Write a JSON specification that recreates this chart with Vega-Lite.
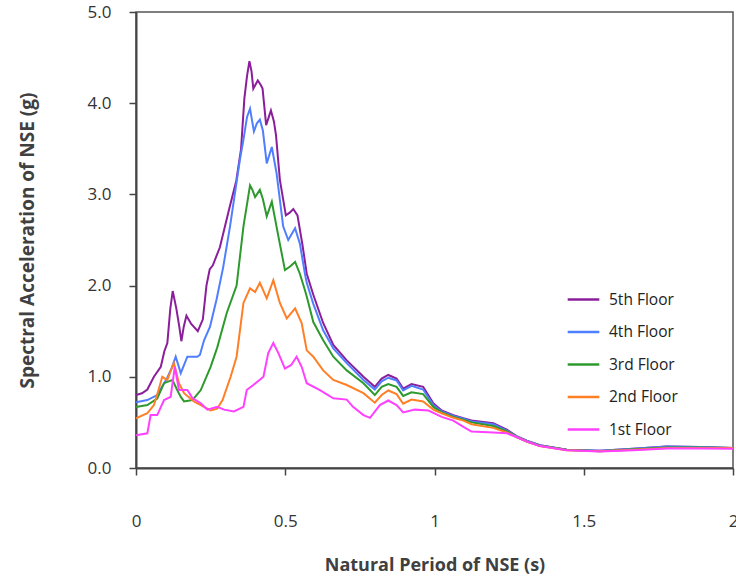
{
  "$schema": "https://vega.github.io/schema/vega-lite/v6.json",
  "width": 597,
  "height": 456,
  "autosize": "none",
  "padding": {"left": 136, "top": 12, "right": 3, "bottom": 117},
  "background": "white",
  "config": {
    "view": {"stroke": "#555555", "strokeWidth": 1.5},
    "font": "Open Sans"
  },
  "data": {"values": [
    {"T":0,"Sa":0.80,"floor":"5th Floor"},{"T":0.02,"Sa":0.82,"floor":"5th Floor"},{"T":0.038,"Sa":0.86,"floor":"5th Floor"},{"T":0.06,"Sa":1.0,"floor":"5th Floor"},{"T":0.083,"Sa":1.11,"floor":"5th Floor"},{"T":0.095,"Sa":1.28,"floor":"5th Floor"},{"T":0.105,"Sa":1.37,"floor":"5th Floor"},{"T":0.115,"Sa":1.75,"floor":"5th Floor"},{"T":0.123,"Sa":1.94,"floor":"5th Floor"},{"T":0.135,"Sa":1.75,"floor":"5th Floor"},{"T":0.145,"Sa":1.55,"floor":"5th Floor"},{"T":0.152,"Sa":1.39,"floor":"5th Floor"},{"T":0.16,"Sa":1.55,"floor":"5th Floor"},{"T":0.169,"Sa":1.67,"floor":"5th Floor"},{"T":0.185,"Sa":1.58,"floor":"5th Floor"},{"T":0.207,"Sa":1.50,"floor":"5th Floor"},{"T":0.224,"Sa":1.63,"floor":"5th Floor"},{"T":0.236,"Sa":2.0,"floor":"5th Floor"},{"T":0.247,"Sa":2.18,"floor":"5th Floor"},{"T":0.257,"Sa":2.22,"floor":"5th Floor"},{"T":0.281,"Sa":2.42,"floor":"5th Floor"},{"T":0.313,"Sa":2.85,"floor":"5th Floor"},{"T":0.336,"Sa":3.15,"floor":"5th Floor"},{"T":0.352,"Sa":3.5,"floor":"5th Floor"},{"T":0.363,"Sa":4.05,"floor":"5th Floor"},{"T":0.372,"Sa":4.3,"floor":"5th Floor"},{"T":0.38,"Sa":4.46,"floor":"5th Floor"},{"T":0.387,"Sa":4.35,"floor":"5th Floor"},{"T":0.393,"Sa":4.16,"floor":"5th Floor"},{"T":0.408,"Sa":4.25,"floor":"5th Floor"},{"T":0.418,"Sa":4.2,"floor":"5th Floor"},{"T":0.424,"Sa":4.16,"floor":"5th Floor"},{"T":0.436,"Sa":3.76,"floor":"5th Floor"},{"T":0.445,"Sa":3.85,"floor":"5th Floor"},{"T":0.452,"Sa":3.92,"floor":"5th Floor"},{"T":0.462,"Sa":3.8,"floor":"5th Floor"},{"T":0.469,"Sa":3.65,"floor":"5th Floor"},{"T":0.482,"Sa":3.16,"floor":"5th Floor"},{"T":0.502,"Sa":2.77,"floor":"5th Floor"},{"T":0.515,"Sa":2.8,"floor":"5th Floor"},{"T":0.527,"Sa":2.84,"floor":"5th Floor"},{"T":0.541,"Sa":2.77,"floor":"5th Floor"},{"T":0.558,"Sa":2.44,"floor":"5th Floor"},{"T":0.572,"Sa":2.13,"floor":"5th Floor"},{"T":0.594,"Sa":1.90,"floor":"5th Floor"},{"T":0.627,"Sa":1.59,"floor":"5th Floor"},{"T":0.661,"Sa":1.35,"floor":"5th Floor"},{"T":0.706,"Sa":1.18,"floor":"5th Floor"},{"T":0.762,"Sa":1.0,"floor":"5th Floor"},{"T":0.8,"Sa":0.89,"floor":"5th Floor"},{"T":0.823,"Sa":0.98,"floor":"5th Floor"},{"T":0.845,"Sa":1.02,"floor":"5th Floor"},{"T":0.873,"Sa":0.98,"floor":"5th Floor"},{"T":0.895,"Sa":0.87,"floor":"5th Floor"},{"T":0.923,"Sa":0.92,"floor":"5th Floor"},{"T":0.962,"Sa":0.89,"floor":"5th Floor"},{"T":0.996,"Sa":0.71,"floor":"5th Floor"},{"T":1.024,"Sa":0.63,"floor":"5th Floor"},{"T":1.063,"Sa":0.58,"floor":"5th Floor"},{"T":1.097,"Sa":0.545,"floor":"5th Floor"},{"T":1.124,"Sa":0.52,"floor":"5th Floor"},{"T":1.197,"Sa":0.49,"floor":"5th Floor"},{"T":1.242,"Sa":0.42,"floor":"5th Floor"},{"T":1.275,"Sa":0.35,"floor":"5th Floor"},{"T":1.309,"Sa":0.30,"floor":"5th Floor"},{"T":1.353,"Sa":0.25,"floor":"5th Floor"},{"T":1.443,"Sa":0.20,"floor":"5th Floor"},{"T":1.554,"Sa":0.19,"floor":"5th Floor"},{"T":1.666,"Sa":0.21,"floor":"5th Floor"},{"T":1.778,"Sa":0.235,"floor":"5th Floor"},{"T":1.889,"Sa":0.23,"floor":"5th Floor"},{"T":2.0,"Sa":0.22,"floor":"5th Floor"},

    {"T":0,"Sa":0.72,"floor":"4th Floor"},{"T":0.038,"Sa":0.745,"floor":"4th Floor"},{"T":0.071,"Sa":0.80,"floor":"4th Floor"},{"T":0.105,"Sa":0.99,"floor":"4th Floor"},{"T":0.12,"Sa":1.1,"floor":"4th Floor"},{"T":0.133,"Sa":1.22,"floor":"4th Floor"},{"T":0.15,"Sa":1.04,"floor":"4th Floor"},{"T":0.172,"Sa":1.22,"floor":"4th Floor"},{"T":0.205,"Sa":1.22,"floor":"4th Floor"},{"T":0.214,"Sa":1.24,"floor":"4th Floor"},{"T":0.228,"Sa":1.40,"floor":"4th Floor"},{"T":0.248,"Sa":1.55,"floor":"4th Floor"},{"T":0.27,"Sa":1.85,"floor":"4th Floor"},{"T":0.292,"Sa":2.2,"floor":"4th Floor"},{"T":0.315,"Sa":2.65,"floor":"4th Floor"},{"T":0.348,"Sa":3.38,"floor":"4th Floor"},{"T":0.36,"Sa":3.6,"floor":"4th Floor"},{"T":0.372,"Sa":3.85,"floor":"4th Floor"},{"T":0.382,"Sa":3.94,"floor":"4th Floor"},{"T":0.395,"Sa":3.69,"floor":"4th Floor"},{"T":0.405,"Sa":3.78,"floor":"4th Floor"},{"T":0.415,"Sa":3.82,"floor":"4th Floor"},{"T":0.425,"Sa":3.7,"floor":"4th Floor"},{"T":0.438,"Sa":3.34,"floor":"4th Floor"},{"T":0.455,"Sa":3.52,"floor":"4th Floor"},{"T":0.471,"Sa":3.23,"floor":"4th Floor"},{"T":0.493,"Sa":2.65,"floor":"4th Floor"},{"T":0.51,"Sa":2.50,"floor":"4th Floor"},{"T":0.533,"Sa":2.63,"floor":"4th Floor"},{"T":0.549,"Sa":2.46,"floor":"4th Floor"},{"T":0.566,"Sa":2.13,"floor":"4th Floor"},{"T":0.572,"Sa":2.03,"floor":"4th Floor"},{"T":0.594,"Sa":1.80,"floor":"4th Floor"},{"T":0.627,"Sa":1.51,"floor":"4th Floor"},{"T":0.661,"Sa":1.31,"floor":"4th Floor"},{"T":0.706,"Sa":1.15,"floor":"4th Floor"},{"T":0.762,"Sa":0.965,"floor":"4th Floor"},{"T":0.8,"Sa":0.86,"floor":"4th Floor"},{"T":0.823,"Sa":0.95,"floor":"4th Floor"},{"T":0.845,"Sa":0.99,"floor":"4th Floor"},{"T":0.873,"Sa":0.96,"floor":"4th Floor"},{"T":0.895,"Sa":0.85,"floor":"4th Floor"},{"T":0.923,"Sa":0.90,"floor":"4th Floor"},{"T":0.962,"Sa":0.86,"floor":"4th Floor"},{"T":0.996,"Sa":0.69,"floor":"4th Floor"},{"T":1.024,"Sa":0.62,"floor":"4th Floor"},{"T":1.063,"Sa":0.57,"floor":"4th Floor"},{"T":1.097,"Sa":0.54,"floor":"4th Floor"},{"T":1.124,"Sa":0.51,"floor":"4th Floor"},{"T":1.197,"Sa":0.48,"floor":"4th Floor"},{"T":1.242,"Sa":0.41,"floor":"4th Floor"},{"T":1.275,"Sa":0.35,"floor":"4th Floor"},{"T":1.309,"Sa":0.30,"floor":"4th Floor"},{"T":1.353,"Sa":0.25,"floor":"4th Floor"},{"T":1.443,"Sa":0.20,"floor":"4th Floor"},{"T":1.554,"Sa":0.19,"floor":"4th Floor"},{"T":1.666,"Sa":0.21,"floor":"4th Floor"},{"T":1.778,"Sa":0.235,"floor":"4th Floor"},{"T":1.889,"Sa":0.23,"floor":"4th Floor"},{"T":2.0,"Sa":0.22,"floor":"4th Floor"},

    {"T":0,"Sa":0.67,"floor":"3rd Floor"},{"T":0.038,"Sa":0.69,"floor":"3rd Floor"},{"T":0.071,"Sa":0.76,"floor":"3rd Floor"},{"T":0.094,"Sa":0.93,"floor":"3rd Floor"},{"T":0.11,"Sa":0.95,"floor":"3rd Floor"},{"T":0.122,"Sa":0.965,"floor":"3rd Floor"},{"T":0.138,"Sa":0.855,"floor":"3rd Floor"},{"T":0.15,"Sa":0.78,"floor":"3rd Floor"},{"T":0.161,"Sa":0.73,"floor":"3rd Floor"},{"T":0.189,"Sa":0.745,"floor":"3rd Floor"},{"T":0.203,"Sa":0.80,"floor":"3rd Floor"},{"T":0.217,"Sa":0.855,"floor":"3rd Floor"},{"T":0.25,"Sa":1.11,"floor":"3rd Floor"},{"T":0.272,"Sa":1.32,"floor":"3rd Floor"},{"T":0.304,"Sa":1.70,"floor":"3rd Floor"},{"T":0.337,"Sa":2.0,"floor":"3rd Floor"},{"T":0.36,"Sa":2.65,"floor":"3rd Floor"},{"T":0.382,"Sa":3.10,"floor":"3rd Floor"},{"T":0.39,"Sa":3.05,"floor":"3rd Floor"},{"T":0.399,"Sa":2.97,"floor":"3rd Floor"},{"T":0.415,"Sa":3.05,"floor":"3rd Floor"},{"T":0.425,"Sa":2.95,"floor":"3rd Floor"},{"T":0.438,"Sa":2.76,"floor":"3rd Floor"},{"T":0.455,"Sa":2.92,"floor":"3rd Floor"},{"T":0.477,"Sa":2.54,"floor":"3rd Floor"},{"T":0.499,"Sa":2.17,"floor":"3rd Floor"},{"T":0.516,"Sa":2.21,"floor":"3rd Floor"},{"T":0.533,"Sa":2.26,"floor":"3rd Floor"},{"T":0.549,"Sa":2.13,"floor":"3rd Floor"},{"T":0.566,"Sa":1.95,"floor":"3rd Floor"},{"T":0.572,"Sa":1.88,"floor":"3rd Floor"},{"T":0.594,"Sa":1.60,"floor":"3rd Floor"},{"T":0.627,"Sa":1.40,"floor":"3rd Floor"},{"T":0.661,"Sa":1.22,"floor":"3rd Floor"},{"T":0.706,"Sa":1.07,"floor":"3rd Floor"},{"T":0.762,"Sa":0.93,"floor":"3rd Floor"},{"T":0.8,"Sa":0.80,"floor":"3rd Floor"},{"T":0.823,"Sa":0.89,"floor":"3rd Floor"},{"T":0.845,"Sa":0.92,"floor":"3rd Floor"},{"T":0.873,"Sa":0.89,"floor":"3rd Floor"},{"T":0.895,"Sa":0.79,"floor":"3rd Floor"},{"T":0.923,"Sa":0.83,"floor":"3rd Floor"},{"T":0.962,"Sa":0.81,"floor":"3rd Floor"},{"T":0.996,"Sa":0.67,"floor":"3rd Floor"},{"T":1.024,"Sa":0.61,"floor":"3rd Floor"},{"T":1.063,"Sa":0.56,"floor":"3rd Floor"},{"T":1.097,"Sa":0.53,"floor":"3rd Floor"},{"T":1.124,"Sa":0.50,"floor":"3rd Floor"},{"T":1.197,"Sa":0.46,"floor":"3rd Floor"},{"T":1.242,"Sa":0.40,"floor":"3rd Floor"},{"T":1.275,"Sa":0.34,"floor":"3rd Floor"},{"T":1.309,"Sa":0.29,"floor":"3rd Floor"},{"T":1.353,"Sa":0.245,"floor":"3rd Floor"},{"T":1.443,"Sa":0.20,"floor":"3rd Floor"},{"T":1.554,"Sa":0.185,"floor":"3rd Floor"},{"T":1.666,"Sa":0.205,"floor":"3rd Floor"},{"T":1.778,"Sa":0.225,"floor":"3rd Floor"},{"T":1.889,"Sa":0.225,"floor":"3rd Floor"},{"T":2.0,"Sa":0.22,"floor":"3rd Floor"},

    {"T":0,"Sa":0.545,"floor":"2nd Floor"},{"T":0.038,"Sa":0.6,"floor":"2nd Floor"},{"T":0.06,"Sa":0.69,"floor":"2nd Floor"},{"T":0.075,"Sa":0.85,"floor":"2nd Floor"},{"T":0.088,"Sa":1.0,"floor":"2nd Floor"},{"T":0.105,"Sa":0.965,"floor":"2nd Floor"},{"T":0.118,"Sa":1.08,"floor":"2nd Floor"},{"T":0.127,"Sa":1.15,"floor":"2nd Floor"},{"T":0.144,"Sa":0.93,"floor":"2nd Floor"},{"T":0.161,"Sa":0.82,"floor":"2nd Floor"},{"T":0.194,"Sa":0.73,"floor":"2nd Floor"},{"T":0.228,"Sa":0.67,"floor":"2nd Floor"},{"T":0.25,"Sa":0.63,"floor":"2nd Floor"},{"T":0.272,"Sa":0.65,"floor":"2nd Floor"},{"T":0.29,"Sa":0.745,"floor":"2nd Floor"},{"T":0.317,"Sa":1.0,"floor":"2nd Floor"},{"T":0.337,"Sa":1.22,"floor":"2nd Floor"},{"T":0.36,"Sa":1.81,"floor":"2nd Floor"},{"T":0.382,"Sa":1.97,"floor":"2nd Floor"},{"T":0.399,"Sa":1.93,"floor":"2nd Floor"},{"T":0.415,"Sa":2.03,"floor":"2nd Floor"},{"T":0.438,"Sa":1.86,"floor":"2nd Floor"},{"T":0.46,"Sa":2.06,"floor":"2nd Floor"},{"T":0.482,"Sa":1.81,"floor":"2nd Floor"},{"T":0.505,"Sa":1.64,"floor":"2nd Floor"},{"T":0.533,"Sa":1.75,"floor":"2nd Floor"},{"T":0.555,"Sa":1.59,"floor":"2nd Floor"},{"T":0.572,"Sa":1.29,"floor":"2nd Floor"},{"T":0.594,"Sa":1.22,"floor":"2nd Floor"},{"T":0.627,"Sa":1.07,"floor":"2nd Floor"},{"T":0.661,"Sa":0.965,"floor":"2nd Floor"},{"T":0.706,"Sa":0.91,"floor":"2nd Floor"},{"T":0.762,"Sa":0.82,"floor":"2nd Floor"},{"T":0.8,"Sa":0.716,"floor":"2nd Floor"},{"T":0.823,"Sa":0.80,"floor":"2nd Floor"},{"T":0.845,"Sa":0.85,"floor":"2nd Floor"},{"T":0.873,"Sa":0.81,"floor":"2nd Floor"},{"T":0.895,"Sa":0.705,"floor":"2nd Floor"},{"T":0.923,"Sa":0.75,"floor":"2nd Floor"},{"T":0.962,"Sa":0.73,"floor":"2nd Floor"},{"T":0.996,"Sa":0.64,"floor":"2nd Floor"},{"T":1.024,"Sa":0.60,"floor":"2nd Floor"},{"T":1.063,"Sa":0.55,"floor":"2nd Floor"},{"T":1.097,"Sa":0.52,"floor":"2nd Floor"},{"T":1.124,"Sa":0.48,"floor":"2nd Floor"},{"T":1.197,"Sa":0.44,"floor":"2nd Floor"},{"T":1.242,"Sa":0.39,"floor":"2nd Floor"},{"T":1.275,"Sa":0.34,"floor":"2nd Floor"},{"T":1.309,"Sa":0.29,"floor":"2nd Floor"},{"T":1.353,"Sa":0.24,"floor":"2nd Floor"},{"T":1.443,"Sa":0.195,"floor":"2nd Floor"},{"T":1.554,"Sa":0.185,"floor":"2nd Floor"},{"T":1.666,"Sa":0.2,"floor":"2nd Floor"},{"T":1.778,"Sa":0.22,"floor":"2nd Floor"},{"T":1.889,"Sa":0.22,"floor":"2nd Floor"},{"T":2.0,"Sa":0.22,"floor":"2nd Floor"},

    {"T":0,"Sa":0.36,"floor":"1st Floor"},{"T":0.038,"Sa":0.38,"floor":"1st Floor"},{"T":0.049,"Sa":0.58,"floor":"1st Floor"},{"T":0.071,"Sa":0.58,"floor":"1st Floor"},{"T":0.094,"Sa":0.745,"floor":"1st Floor"},{"T":0.116,"Sa":0.78,"floor":"1st Floor"},{"T":0.13,"Sa":1.11,"floor":"1st Floor"},{"T":0.144,"Sa":0.855,"floor":"1st Floor"},{"T":0.172,"Sa":0.855,"floor":"1st Floor"},{"T":0.189,"Sa":0.767,"floor":"1st Floor"},{"T":0.217,"Sa":0.71,"floor":"1st Floor"},{"T":0.239,"Sa":0.64,"floor":"1st Floor"},{"T":0.272,"Sa":0.67,"floor":"1st Floor"},{"T":0.295,"Sa":0.64,"floor":"1st Floor"},{"T":0.328,"Sa":0.62,"floor":"1st Floor"},{"T":0.36,"Sa":0.67,"floor":"1st Floor"},{"T":0.371,"Sa":0.855,"floor":"1st Floor"},{"T":0.393,"Sa":0.91,"floor":"1st Floor"},{"T":0.427,"Sa":1.0,"floor":"1st Floor"},{"T":0.443,"Sa":1.26,"floor":"1st Floor"},{"T":0.46,"Sa":1.37,"floor":"1st Floor"},{"T":0.477,"Sa":1.26,"floor":"1st Floor"},{"T":0.499,"Sa":1.09,"floor":"1st Floor"},{"T":0.52,"Sa":1.13,"floor":"1st Floor"},{"T":0.538,"Sa":1.22,"floor":"1st Floor"},{"T":0.555,"Sa":1.11,"floor":"1st Floor"},{"T":0.572,"Sa":0.93,"floor":"1st Floor"},{"T":0.616,"Sa":0.855,"floor":"1st Floor"},{"T":0.661,"Sa":0.765,"floor":"1st Floor"},{"T":0.706,"Sa":0.75,"floor":"1st Floor"},{"T":0.727,"Sa":0.67,"floor":"1st Floor"},{"T":0.762,"Sa":0.58,"floor":"1st Floor"},{"T":0.784,"Sa":0.55,"floor":"1st Floor"},{"T":0.817,"Sa":0.69,"floor":"1st Floor"},{"T":0.845,"Sa":0.74,"floor":"1st Floor"},{"T":0.873,"Sa":0.69,"floor":"1st Floor"},{"T":0.895,"Sa":0.61,"floor":"1st Floor"},{"T":0.934,"Sa":0.64,"floor":"1st Floor"},{"T":0.98,"Sa":0.63,"floor":"1st Floor"},{"T":1.024,"Sa":0.56,"floor":"1st Floor"},{"T":1.063,"Sa":0.52,"floor":"1st Floor"},{"T":1.097,"Sa":0.45,"floor":"1st Floor"},{"T":1.124,"Sa":0.40,"floor":"1st Floor"},{"T":1.197,"Sa":0.39,"floor":"1st Floor"},{"T":1.242,"Sa":0.38,"floor":"1st Floor"},{"T":1.275,"Sa":0.34,"floor":"1st Floor"},{"T":1.309,"Sa":0.29,"floor":"1st Floor"},{"T":1.353,"Sa":0.24,"floor":"1st Floor"},{"T":1.443,"Sa":0.195,"floor":"1st Floor"},{"T":1.554,"Sa":0.18,"floor":"1st Floor"},{"T":1.666,"Sa":0.195,"floor":"1st Floor"},{"T":1.778,"Sa":0.215,"floor":"1st Floor"},{"T":1.889,"Sa":0.215,"floor":"1st Floor"},{"T":2.0,"Sa":0.21,"floor":"1st Floor"}
  ]},
  "mark": {"type": "line", "strokeWidth": 2, "clip": true},
  "encoding": {
    "x": {
      "field": "T", "type": "quantitative",
      "scale": {"domain": [0, 2], "nice": false},
      "axis": {
        "title": "Natural Period of NSE (s)",
        "values": [0, 0.5, 1, 1.5, 2],
        "labelExpr": "datum.value == 0.5 ? '0.5' : datum.value == 1.5 ? '1.5' : format(datum.value, 'd')",
        "grid": false,
        "domainColor": "#444444", "domainWidth": 2,
        "tickColor": "#444444", "tickWidth": 1.5, "tickSize": 7,
        "labelFontSize": 17, "labelColor": "#333333", "labelPadding": 38,
        "labelFlush": false,
        "titleFontSize": 18, "titleFontWeight": "bold", "titleColor": "#404040", "titlePadding": 27
      }
    },
    "y": {
      "field": "Sa", "type": "quantitative",
      "scale": {"domain": [0, 5], "nice": false},
      "axis": {
        "title": "Spectral Acceleration of NSE (g)",
        "values": [0, 1, 2, 3, 4, 5],
        "format": ".1f",
        "grid": false,
        "domainColor": "#444444", "domainWidth": 2,
        "tickColor": "#444444", "tickWidth": 1.5, "tickSize": 7,
        "labelFontSize": 17, "labelColor": "#333333", "labelPadding": 18,
        "titleFontSize": 19, "titleFontWeight": "bold", "titleColor": "#404040", "titlePadding": 50
      }
    },
    "color": {
      "field": "floor", "type": "nominal",
      "scale": {
        "domain": ["5th Floor", "4th Floor", "3rd Floor", "2nd Floor", "1st Floor"],
        "range": ["#8B1F9B", "#4F7FFF", "#2E9A2E", "#FF7F27", "#FF40FF"]
      },
      "legend": {
        "title": null,
        "orient": "none",
        "legendX": 430,
        "legendY": 270,
        "symbolType": "stroke",
        "symbolSize": 1000,
        "symbolStrokeWidth": 2.5,
        "labelFontSize": 15.5,
        "labelColor": "#222222",
        "rowPadding": 6.5,
        "labelOffset": 8
      }
    }
  }
}
